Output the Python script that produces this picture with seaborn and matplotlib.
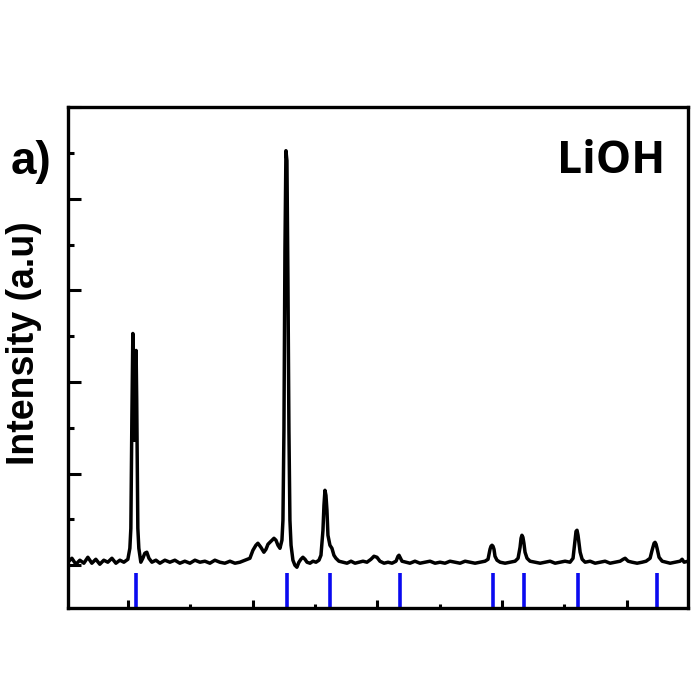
import matplotlib
matplotlib.use("Agg")
import matplotlib.pyplot as plt
import seaborn as sns
import pandas as pd
from matplotlib.ticker import MultipleLocator, NullFormatter

two_theta = [15.19, 15.51, 15.83, 16.15, 16.47, 16.79, 17.11, 17.43, 17.75, 18.07,
             18.39, 18.72, 19.04, 19.36, 19.68, 20.00, 20.16, 20.24, 20.32, 20.40,
             20.48, 20.53, 20.59, 20.66, 20.71, 20.80, 20.88, 21.04, 21.20, 21.36,
             21.52, 21.69, 21.93, 22.25, 22.57, 22.97, 23.37, 23.77, 24.17, 24.57,
             24.98, 25.38, 25.78, 26.18, 26.58, 26.98, 27.38, 27.78, 28.19, 28.59,
             28.99, 29.39, 29.79, 30.03, 30.27, 30.43, 30.67, 30.91, 31.08, 31.24,
             31.48, 31.72, 31.88, 32.04, 32.20, 32.36, 32.44, 32.52, 32.60, 32.68,
             32.76, 32.84, 32.92, 33.00, 33.09, 33.24, 33.40, 33.56, 33.72, 33.88,
             34.04, 34.21, 34.37, 34.61, 34.85, 35.09, 35.33, 35.49, 35.65, 35.73,
             35.81, 35.89, 35.97, 36.05, 36.21, 36.37, 36.53, 36.69, 36.93, 37.25,
             37.58, 37.90, 38.22, 38.54, 38.86, 39.18, 39.50, 39.74, 39.98, 40.22,
             40.55, 40.87, 41.19, 41.51, 41.67, 41.75, 41.83, 41.99, 42.31, 42.63,
             43.03, 43.43, 43.84, 44.24, 44.64, 45.04, 45.44, 45.84, 46.24, 46.65,
             47.05, 47.45, 47.85, 48.25, 48.65, 48.89, 49.05, 49.13, 49.21, 49.29,
             49.37, 49.45, 49.61, 49.86, 50.26, 50.66, 51.06, 51.30, 51.46, 51.54,
             51.61, 51.69, 51.77, 51.86, 52.02, 52.26, 52.66, 53.07, 53.47, 53.87,
             54.27, 54.67, 55.07, 55.47, 55.71, 55.87, 55.95, 56.03, 56.11, 56.19,
             56.28, 56.44, 56.68, 57.08, 57.48, 57.88, 58.28, 58.68, 59.09, 59.49,
             59.73, 59.89, 60.13, 60.45, 60.85, 61.25, 61.57, 61.89, 62.05, 62.21,
             62.29, 62.37, 62.45, 62.61, 62.86, 63.18, 63.50, 63.90, 64.30, 64.46,
             64.62, 64.94]
intensity = [33, 76, 11, 55, 22, 87, 22, 65, 11, 55,
             33, 76, 22, 55, 33, 65, 185, 403, 1580, 2529,
             2017, 1363, 1799, 2344, 1799, 403, 185, 33, 76, 131,
             142, 76, 33, 55, 22, 55, 33, 55, 22, 44,
             22, 55, 33, 44, 22, 55, 33, 22, 44, 22,
             33, 55, 76, 163, 218, 240, 196, 142, 174, 229,
             262, 294, 273, 218, 185, 273, 491, 1472, 3434, 4524,
             4415, 3107, 1472, 491, 218, 55, 0, -22, 33, 65,
             87, 65, 33, 22, 44, 33, 55, 109, 382, 654,
             818, 763, 600, 327, 218, 185, 109, 76, 44, 33,
             22, 44, 22, 33, 44, 33, 65, 98, 87, 44,
             22, 33, 22, 44, 98, 109, 87, 44, 33, 22,
             44, 22, 33, 44, 22, 33, 22, 44, 33, 22,
             44, 33, 22, 33, 44, 65, 174, 207, 218, 207,
             174, 98, 55, 33, 22, 33, 44, 76, 196, 294,
             327, 305, 240, 142, 76, 44, 33, 22, 33, 44,
             22, 33, 44, 33, 76, 273, 370, 382, 327, 240,
             142, 65, 33, 44, 22, 33, 44, 22, 33, 44,
             65, 76, 44, 33, 22, 33, 44, 76, 163, 240,
             250, 229, 185, 87, 44, 33, 22, 33, 44, 65,
             33, 44]

# Reference (standard) peak positions for LiOH
ref_peaks = [20.64, 32.76, 36.21, 41.83, 49.29, 51.77, 56.11, 62.45]

sample_label = "LiOH"
panel_label = "a)"
y_label = "Intensity (a.u)"

df = pd.DataFrame({"two_theta": two_theta, "intensity": intensity})

sns.set_style("ticks")
plt.rcParams["font.family"] = ["Liberation Sans", "DejaVu Sans"]
plt.rcParams["text.color"] = "black"

fig = plt.figure(figsize=(7, 7), dpi=100)
ax = fig.add_axes([0.097, 0.131, 0.886, 0.716])

sns.lineplot(data=df, x="two_theta", y="intensity", ax=ax, color="black",
             linewidth=2.5, sort=False, estimator=None)
ax.vlines(ref_peaks, -470, -87, colors="#0a0af0", linewidth=2.6)

ax.set_xlim(15.19, 64.94)
ax.set_ylim(-470, 5000)

ax.xaxis.set_major_locator(MultipleLocator(10))
ax.xaxis.set_minor_locator(MultipleLocator(5))
ax.yaxis.set_major_locator(MultipleLocator(1000))
ax.yaxis.set_minor_locator(MultipleLocator(500))
ax.xaxis.set_major_formatter(NullFormatter())
ax.yaxis.set_major_formatter(NullFormatter())

ax.tick_params(axis="x", which="major", direction="in", length=6, width=2.2,
               color="black", top=False)
ax.tick_params(axis="x", which="minor", direction="in", length=3, width=2.2,
               color="black", top=False)
ax.tick_params(axis="y", which="major", direction="in", length=9, width=2.2,
               color="black", right=False)
ax.tick_params(axis="y", which="minor", direction="in", length=4, width=2.2,
               color="black", right=False)

for sp in ax.spines.values():
    sp.set_visible(True)
    sp.set_linewidth(2.4)
    sp.set_color("black")

ax.set_xlabel("")
ax.set_ylabel("")

fig.text(24 / 700, 1 - 343 / 700, y_label, rotation=90, ha="center", va="center",
         fontsize=27, fontweight="bold", color="black",
         family=["Liberation Sans", "DejaVu Sans"])
fig.text(11 / 700, 1 - 174 / 700, panel_label, ha="left", va="baseline",
         fontsize=33, fontweight="bold", color="black",
         family=["Liberation Sans", "DejaVu Sans"])
fig.text(557 / 700, 1 - 173 / 700, sample_label, ha="left", va="baseline",
         fontsize=32, fontweight="bold", color="black",
         family=["Open Sans", "DejaVu Sans"])

fig.savefig("out.png", dpi=100)
